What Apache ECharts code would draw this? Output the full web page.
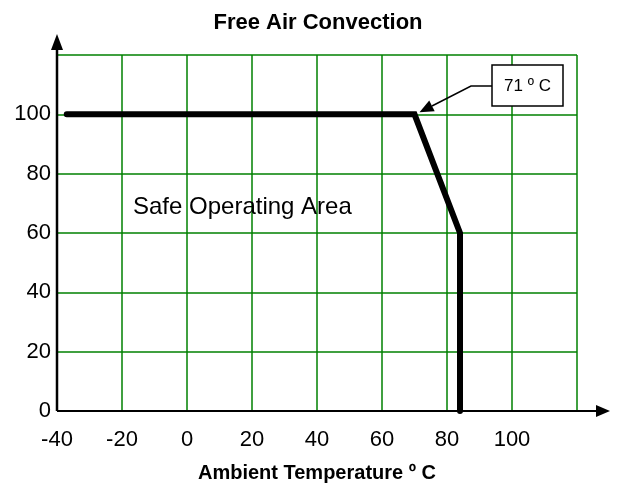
<!DOCTYPE html>
<html><head><meta charset="utf-8">
<script src="https://cdn.jsdelivr.net/npm/echarts@6/dist/echarts.min.js"></script>
<style>html,body{margin:0;padding:0;background:#fff}#c{width:620px;height:485px}</style>
</head><body><div id="c"></div>
<script>
const xTicks = [-40, -20, 0, 20, 40, 60, 80, 100];
const yTicks = [0, 20, 40, 60, 80, 100];
const tempX = [-37, 70, 84, 84];
const loadY = [100, 100, 60, 0];
const chartTitle = 'Free Air Convection';
const xName = 'Ambient Temperature º C';
const annoText = '71 º C';
const areaText = 'Safe Operating Area';

(function () {
const FONT = '"Liberation Sans", Arial, sans-serif';
const chart = echarts.init(document.getElementById('c'));
const data = tempX.map((x, i) => [x, loadY[i]]);
const GREEN = '#008000';
chart.setOption({
  animation: false,
  title: { text: chartTitle, left: 313, top: 7, textAlign: 'center',
    textStyle: { fontFamily: FONT, fontSize: 22, fontWeight: 'bold', color: '#000' } },
  grid: { left: 57, right: 43, top: 55, bottom: 74, containLabel: false, outerBoundsMode: 'none' },
  xAxis: {
    type: 'value', min: -40, max: 120, interval: 20,
    name: xName, nameLocation: 'middle', nameGap: 52,
    nameTextStyle: { fontFamily: FONT, fontSize: 20, fontWeight: 'bold', color: '#000' },
    axisLine: { show: false },
    axisTick: { show: false },
    axisLabel: { margin: 18, fontFamily: FONT, fontSize: 22, color: '#000',
      formatter: v => xTicks.includes(v) ? String(v) : '' },
    splitLine: { show: true, lineStyle: { color: GREEN, width: 1.5 } }
  },
  yAxis: {
    type: 'value', min: 0, max: 120, interval: 20,
    axisLine: { show: false },
    axisTick: { show: false },
    axisLabel: { margin: 6, fontFamily: FONT, fontSize: 22, color: '#000',
      formatter: v => yTicks.includes(v) ? String(v) : '' },
    splitLine: { show: true, lineStyle: { color: GREEN, width: 1.5 } }
  },
  series: [{
    type: 'line', data: data, symbol: 'none', z: 5,
    lineStyle: { color: '#000', width: 6, cap: 'round', join: 'miter' }
  }]
});

const o = chart.convertToPixel({ gridIndex: 0 }, [-40, 0]);
const kink = chart.convertToPixel({ gridIndex: 0 }, [tempX[1], loadY[1]]);
const tip = [kink[0] + 5, kink[1] - 2];
const elbow = [471, 86];
const dx = tip[0] - elbow[0], dy = tip[1] - elbow[1];
const L = Math.hypot(dx, dy), ux = dx / L, uy = dy / L;
const hl = 14, hw = 6;
const bx = tip[0] - ux * hl, by = tip[1] - uy * hl;

chart.setOption({
  graphic: [
    { type: 'line', shape: { x1: o[0], y1: o[1], x2: 598, y2: o[1] },
      style: { stroke: '#000', lineWidth: 2 }, z: 10 },
    { type: 'polygon', shape: { points: [[610, o[1]], [596, o[1] - 6], [596, o[1] + 6]] },
      style: { fill: '#000' }, z: 10 },
    { type: 'line', shape: { x1: o[0], y1: o[1], x2: o[0], y2: 48 },
      style: { stroke: '#000', lineWidth: 2.5 }, z: 10 },
    { type: 'polygon', shape: { points: [[o[0], 34], [o[0] - 6, 50], [o[0] + 6, 50]] },
      style: { fill: '#000' }, z: 10 },
    { type: 'polyline', shape: { points: [[492, elbow[1]], elbow, [bx, by]] },
      style: { stroke: '#000', lineWidth: 1.5, fill: null }, z: 10 },
    { type: 'polygon', shape: { points: [tip, [bx - uy * hw, by + ux * hw], [bx + uy * hw, by - ux * hw]] },
      style: { fill: '#000' }, z: 10 },
    { type: 'rect', shape: { x: 492, y: 65, width: 71, height: 41 },
      style: { fill: '#fff', stroke: '#000', lineWidth: 1.5 }, z: 10 },
    { type: 'text', x: 527.5, y: 86, z: 11,
      style: { text: annoText, fontFamily: FONT, fontSize: 17, fill: '#000', align: 'center', verticalAlign: 'middle' } },
    { type: 'text', x: 133, y: 207, z: 11,
      style: { text: areaText, fontFamily: FONT, fontSize: 24, fill: '#000', align: 'left', verticalAlign: 'middle' } }
  ]
});
})();
</script></body></html>
